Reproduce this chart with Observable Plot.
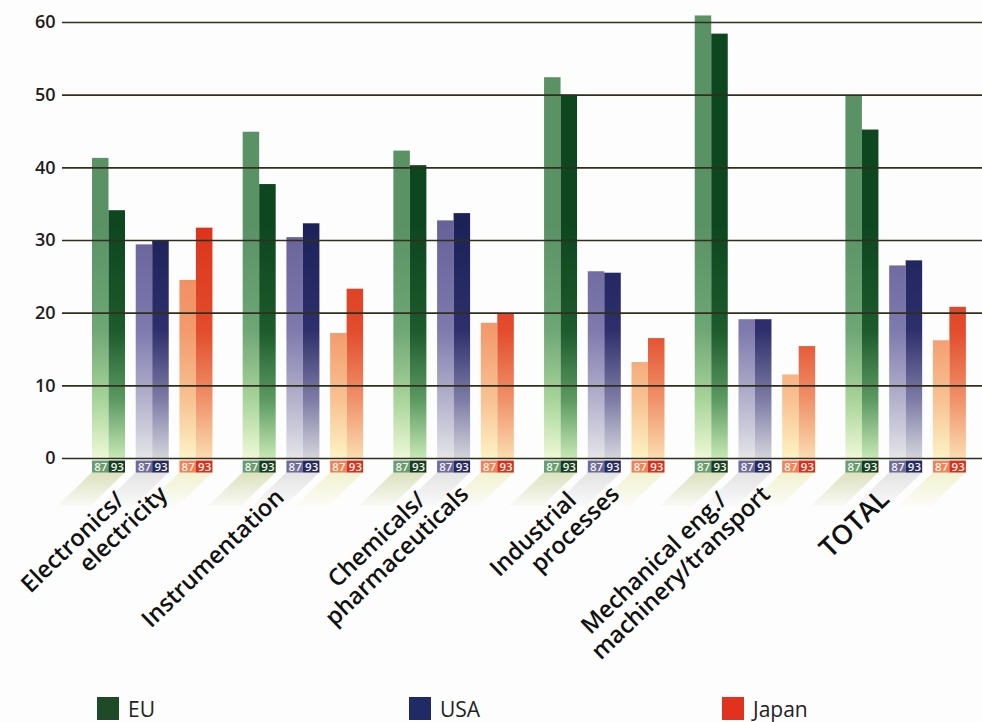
<!DOCTYPE html>
<html><head><meta charset="utf-8">
<script src="https://cdn.jsdelivr.net/npm/d3@7"></script>
<script src="https://cdn.jsdelivr.net/npm/@observablehq/plot@0.6"></script>
<style>
body{margin:0;background:#fdfdfd;font-family:"Open Sans",sans-serif;}
#wrap{width:982px;height:722px;position:relative;overflow:hidden;background:#fdfdfd}
#wrap svg{display:block}
.item{position:absolute;top:697px;display:flex;align-items:center;font-size:21px;color:#222;line-height:22px;height:23px}
.sw{width:22px;height:23px;margin-right:9px;box-sizing:border-box}
</style></head><body><div id="wrap"></div>
<script>
// ---- data ----
const categories = ["Electronics/ electricity", "Instrumentation", "Chemicals/ pharmaceuticals", "Industrial processes", "Mechanical eng./ machinery/transport", "TOTAL"];
const labelLine1 = ["Electronics/", "Instrumentation", "Chemicals/", "Industrial", "Mechanical eng./", "TOTAL"];
const labelLine2 = ["electricity", "", "pharmaceuticals", "processes", "machinery/transport", ""];
const regions = ["EU", "USA", "Japan"];
const years = ["87", "93"];
const eu87 = [41.3, 44.9, 42.3, 52.4, 60.9, 49.9];
const eu93 = [34.1, 37.7, 40.3, 50.0, 58.4, 45.2];
const usa87 = [29.4, 30.4, 32.7, 25.7, 19.1, 26.5];
const usa93 = [30.0, 32.3, 33.7, 25.5, 19.1, 27.2];
const japan87 = [24.5, 17.2, 18.6, 13.2, 11.5, 16.2];
const japan93 = [31.7, 23.3, 19.9, 16.5, 15.4, 20.8];
const yTicks = [0, 10, 20, 30, 40, 50, 60];

// ---- styles ----
const legendColors = {EU: "#1f4a27", USA: "#1f2a66", Japan: "#e0321f"};
const boxColors = {EU87: "#6a9c72", EU93: "#163f22", USA87: "#6f6c9c", USA93: "#252862", Japan87: "#f08458", Japan93: "#d8301c"};
const gradStops = {
  EU87: ["#5a9266", "#6fa676", "#a8d49a", "#eef9d6"],
  EU93: ["#0e4620", "#1d5a2c", "#5c9a62", "#c6e8b4"],
  USA87: ["#67639a", "#7e7aae", "#b4b2cc", "#e4e4e8"],
  USA93: ["#1c2258", "#2e2f6c", "#7e7ca6", "#d4d4dc"],
  Japan87: ["#f0845c", "#f39a6c", "#f8c292", "#fdf2c4"],
  Japan93: ["#dc341c", "#e24c2c", "#f0926a", "#fbdcb0"]
};
const shadowColors = {EU: "#d6dcb2", USA: "#dedede", Japan: "#eff0c8"};

// layout in bar-width units
const LEFT = 1.818, GROUP = 9.133, REGION = 2.65, XMAX = 55.76;

const series = {EU: [eu87, eu93], USA: [usa87, usa93], Japan: [japan87, japan93]};
const rows = [];
categories.forEach((c, i) => regions.forEach((r, ri) => years.forEach((yr, k) => {
  const x1 = LEFT + i * GROUP + ri * REGION + k;
  rows.push({cat: c, i, region: r, year: yr, key: r + yr, value: series[r][k][i], x1, x2: x1 + 1});
})));

// shadows (parallelograms) per region pair
const shadows = [];
categories.forEach((c, i) => regions.forEach((r, ri) => {
  const a = LEFT + i * GROUP + ri * REGION;
  shadows.push({id: i + r, region: r, y: -1.95, x1: a, x2: a + 2});
  shadows.push({id: i + r, region: r, y: -6.6, x1: a - 2.1, x2: a + 2 - 2.1});
}));

const labels = categories.map((c, i) => ({i, gx: LEFT + i * GROUP, l1: labelLine1[i], l2: labelLine2[i]}));

const marks = [];
for (const r of regions) {
  marks.push(Plot.areaX(shadows.filter(d => d.region === r), {y: "y", x1: "x1", x2: "x2", z: "id", fill: `url(#sh-${r})`, curve: "linear"}));
}
for (const key of Object.keys(gradStops)) {
  const sub = rows.filter(d => d.key === key);
  marks.push(Plot.rect(sub, {x1: "x1", x2: "x2", y1: 0, y2: "value", fill: `url(#g-${key})`}));
  marks.push(Plot.rect(sub, {x1: "x1", x2: "x2", y1: -0.35, y2: -2.0, fill: boxColors[key]}));
}
marks.push(Plot.ruleY(yTicks, {stroke: "#2f2f1e", strokeWidth: 1.6}));
marks.push(Plot.text(rows, {x: d => (d.x1 + d.x2) / 2, y: -1.18, text: "year", fill: "#f2f4ea", fontSize: 11.5, fontWeight: 600}));
marks.push(Plot.axisY(yTicks, {tickSize: 0, tickPadding: 7, fontSize: 18, fontWeight: 600, fill: "#1e1e1e", label: null}));
const two = labels.filter(d => d.l2 !== "");
const one = labels.filter(d => d.l2 === "" && d.l1 !== "TOTAL");
const tot = labels.filter(d => d.l1 === "TOTAL");
const common = {y: 0, textAnchor: "end", rotate: -44, fill: "#111", fontSize: 23.5, fontWeight: 600};
marks.push(Plot.text(two, {...common, x: "gx", text: "l1", dx: 28, dy: 38}));
marks.push(Plot.text(two, {...common, x: "gx", text: "l2", dx: 71, dy: 32}));
marks.push(Plot.text(one, {...common, x: "gx", text: "l1", dx: 37, dy: 35}));
marks.push(Plot.text(tot, {...common, x: "gx", text: "l1", dx: 39, dy: 36, fontSize: 27, fontWeight: 600}));

const plot = Plot.plot({
  width: 982, height: 682,
  marginLeft: 62, marginRight: 0, marginTop: 22, marginBottom: 224,
  x: {domain: [0, XMAX], axis: null},
  y: {domain: [0, 60]},
  style: {background: "transparent", fontFamily: "'Open Sans', sans-serif", overflow: "visible"},
  marks
});

// gradients in user space, positioned with the y scale
const ys = plot.scale("y");
const NS = "http://www.w3.org/2000/svg";
const defs = document.createElementNS(NS, "defs");
function grad(id, y1, y2, stops) {
  const g = document.createElementNS(NS, "linearGradient");
  g.setAttribute("id", id);
  g.setAttribute("gradientUnits", "userSpaceOnUse");
  g.setAttribute("x1", 0); g.setAttribute("x2", 0);
  g.setAttribute("y1", y1); g.setAttribute("y2", y2);
  for (const [off, col, op] of stops) {
    const s = document.createElementNS(NS, "stop");
    s.setAttribute("offset", off);
    s.setAttribute("stop-color", col);
    s.setAttribute("stop-opacity", op == null ? 1 : op);
    g.appendChild(s);
  }
  defs.appendChild(g);
}
const offs = [0, 0.45, 0.75, 1];
for (const [key, cols] of Object.entries(gradStops)) {
  grad("g-" + key, ys.apply(32), ys.apply(0), cols.map((c, j) => [offs[j], c]));
}
for (const r of regions) {
  grad("sh-" + r, ys.apply(-2.0), ys.apply(-6.6), [[0, shadowColors[r], 0.85], [1, shadowColors[r], 0.1]]);
}
plot.insertBefore(defs, plot.firstChild);

const wrap = document.getElementById("wrap");
wrap.appendChild(plot);
const legendX = {EU: 97, USA: 409, Japan: 722};
for (const r of regions) {
  const it = document.createElement("div");
  it.className = "item";
  it.style.left = legendX[r] + "px";
  const sw = document.createElement("div");
  sw.className = "sw";
  sw.style.background = legendColors[r];
  const tx = document.createElement("span");
  tx.textContent = r;
  it.appendChild(sw); it.appendChild(tx);
  wrap.appendChild(it);
}
</script>
</body></html>
